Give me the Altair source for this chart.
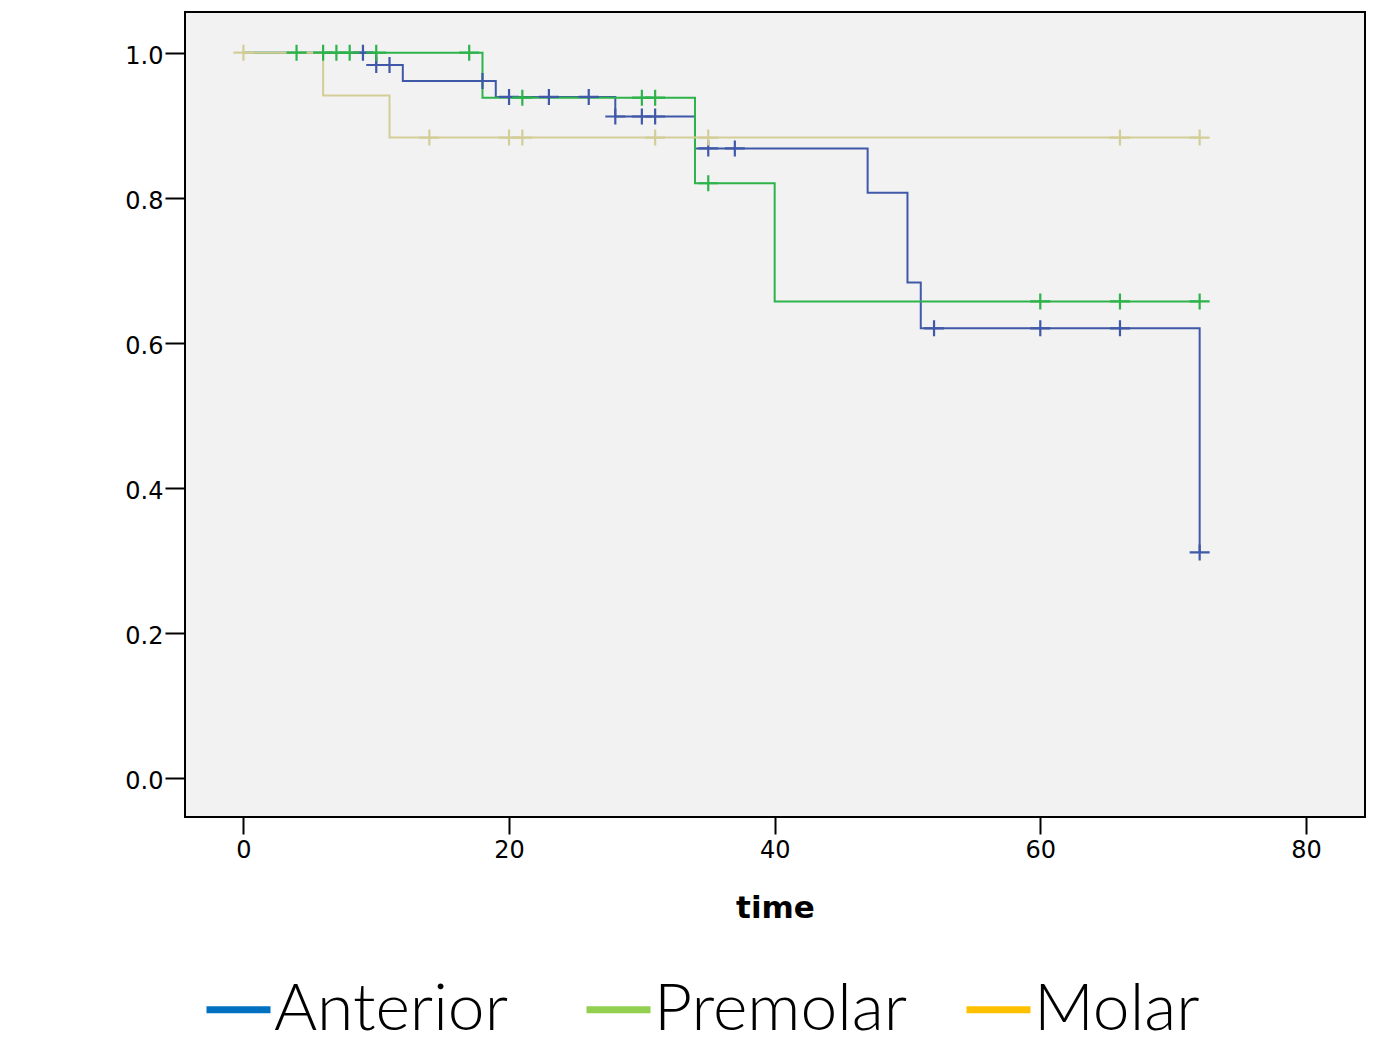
import altair as alt
import pandas as pd

groups = ["Anterior", "Premolar", "Molar"]
line_colors = ["#3F58A8", "#2DB34A", "#D3CD98"]
legend_colors = ["#0070C0", "#92D050", "#FFC000"]

# Kaplan-Meier step points (time, cumulative survival)
ant_time = [0, 10, 12, 19, 28, 34, 47, 50, 51, 72]
ant_surv = [1.0, 0.983, 0.961, 0.939, 0.912, 0.868, 0.807, 0.683, 0.620, 0.311]
pre_time = [0, 18, 34, 40, 72]
pre_surv = [1.0, 0.938, 0.820, 0.657, 0.657]
mol_time = [0, 6, 11, 72]
mol_surv = [1.0, 0.941, 0.883, 0.883]

# censored observations
ant_cens_time = [9, 10, 11, 18, 20, 23, 26, 28, 30, 31, 35, 37, 52, 60, 66, 72]
ant_cens_surv = [1.0, 0.983, 0.983, 0.961, 0.939, 0.939, 0.939, 0.912, 0.912, 0.912,
                 0.868, 0.868, 0.620, 0.620, 0.620, 0.311]
pre_cens_time = [4, 6, 7, 8, 10, 17, 21, 30, 31, 35, 60, 66, 72]
pre_cens_surv = [1.0, 1.0, 1.0, 1.0, 1.0, 1.0, 0.938, 0.938, 0.938, 0.820, 0.657, 0.657, 0.657]
mol_cens_time = [0, 14, 20, 21, 31, 35, 66, 72]
mol_cens_surv = [1.0, 0.883, 0.883, 0.883, 0.883, 0.883, 0.883, 0.883]

x_ticks = [0, 20, 40, 60, 80]
y_ticks = [0.0, 0.2, 0.4, 0.6, 0.8, 1.0]


def frame(name, t, s):
    return pd.DataFrame({"group": name, "time": t, "surv": s, "idx": range(len(t))})


lines_df = pd.concat([
    frame("Anterior", ant_time, ant_surv),
    frame("Premolar", pre_time, pre_surv),
    frame("Molar", mol_time, mol_surv),
])
cens_df = pd.concat([
    frame("Anterior", ant_cens_time, ant_cens_surv),
    frame("Premolar", pre_cens_time, pre_cens_surv),
    frame("Molar", mol_cens_time, mol_cens_surv),
])
legend_df = pd.DataFrame({"item": groups})

x_enc = alt.X("time:Q",
              scale=alt.Scale(domain=[-4.4, 84.45], nice=False, zero=False),
              axis=alt.Axis(values=x_ticks, title="time", format="d",
                            tickSize=17, tickWidth=2, tickColor="black",
                            labelPadding=4, labelFontSize=24, labelFont="DejaVu Sans",
                            labelColor="black", titleFont="DejaVu Sans",
                            titleFontSize=31, titleFontWeight="bold",
                            titleColor="black", titlePadding=31,
                            domain=False, grid=False))
y_enc = alt.Y("surv:Q",
              scale=alt.Scale(domain=[-0.0538, 1.0561], nice=False, zero=False),
              axis=alt.Axis(values=y_ticks, title=None, format=".1f",
                            tickSize=20, tickWidth=2, tickColor="black",
                            labelPadding=2, labelFontSize=24, labelFont="DejaVu Sans",
                            labelColor="black", labelOffset=4,
                            domain=False, grid=False))
stroke_enc = alt.Stroke("group:N",
                        scale=alt.Scale(domain=groups, range=line_colors),
                        legend=None)

line_layers = [
    alt.Chart(lines_df).transform_filter(alt.datum.group == g)
    .mark_line(interpolate="step-after", strokeWidth=2)
    .encode(x=x_enc, y=y_enc, stroke=stroke_enc, order="idx:Q")
    for g in groups
]
cens_layers = [
    alt.Chart(cens_df).transform_filter(alt.datum.group == g)
    .mark_point(shape="M-1,0L1,0M0,-0.8L0,0.8", filled=False, size=400,
                strokeWidth=2.2, opacity=1)
    .encode(x=x_enc, y=y_enc, stroke=stroke_enc)
    for g in groups
]

legend_layer = alt.Chart(legend_df).mark_line().encode(
    x=alt.datum(0),
    y=alt.datum(0),
    color=alt.Color("item:N",
                    scale=alt.Scale(domain=groups, range=legend_colors),
                    legend=alt.Legend(orient="none", legendX=18, legendY=962,
                                      direction="horizontal", title=None,
                                      columns=3, gridAlign="all",
                                      symbolType="stroke", symbolSize=4096,
                                      symbolStrokeWidth=7, symbolOpacity=1,
                                      labelFont="Lato", labelFontSize=66,
                                      labelFontWeight=300, labelColor="black",
                                      labelOffset=0, columnPadding=44,
                                      labelLimit=600, padding=0)),
)

chart = alt.layer(*line_layers, *cens_layers, legend_layer).properties(
    width=1180,
    height=805,
    autosize=alt.AutoSizeParams(type="none"),
    padding={"left": 177, "top": 4, "right": 9, "bottom": 216},
    background="white",
).resolve_scale(
    color="independent", stroke="independent"
).configure_view(
    fill="#F2F2F2", stroke="black", strokeWidth=2
)

chart.save("out.html", embed_options={"renderer": "svg", "actions": False})
